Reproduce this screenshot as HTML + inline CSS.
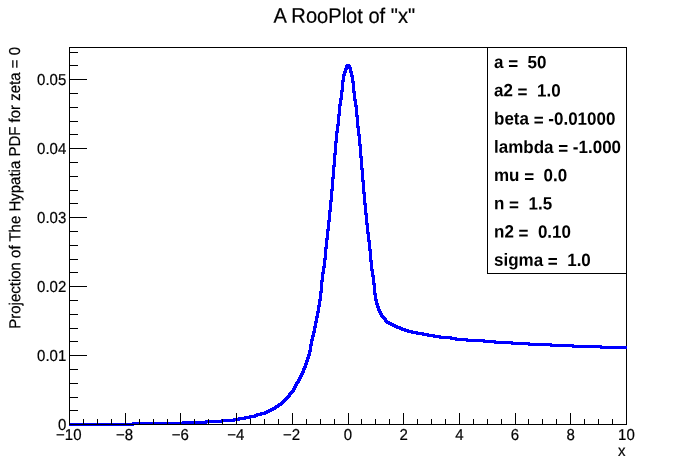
<!DOCTYPE html>
<html><head><meta charset="utf-8"><title>A RooPlot of "x"</title>
<style>html,body{margin:0;padding:0;background:#fff}svg{display:block}text{font-family:"Liberation Sans",Arial,Helvetica,sans-serif;fill:#000}</style></head><body>
<svg width="696" height="472" viewBox="0 0 696 472">
<rect width="696" height="472" fill="#fff"/>
<rect x="69.5" y="47.5" width="557" height="377" fill="none" stroke="#000" stroke-width="1" shape-rendering="crispEdges"/>
<path fill="#0000ff" shape-rendering="crispEdges" d="M346 64h4v1h-4zM345 65h6v1h-6zM345 66h6v1h-6zM345 67h7v1h-7zM344 68h8v1h-8zM344 69h4v1h-4zM349 69h3v1h-3zM344 70h3v1h-3zM349 70h3v1h-3zM343 71h4v1h-4zM349 71h4v1h-4zM343 72h4v1h-4zM349 72h4v1h-4zM343 73h3v1h-3zM350 73h3v1h-3zM342 74h4v1h-4zM350 74h3v1h-3zM342 75h4v1h-4zM350 75h4v1h-4zM342 76h3v1h-3zM350 76h4v1h-4zM342 77h3v1h-3zM351 77h3v1h-3zM342 78h3v1h-3zM351 78h3v1h-3zM342 79h3v1h-3zM351 79h3v1h-3zM341 80h4v1h-4zM351 80h3v1h-3zM341 81h4v1h-4zM351 81h4v1h-4zM341 82h3v1h-3zM351 82h4v1h-4zM341 83h3v1h-3zM352 83h3v1h-3zM341 84h3v1h-3zM352 84h3v1h-3zM341 85h3v1h-3zM352 85h3v1h-3zM341 86h3v1h-3zM352 86h3v1h-3zM341 87h3v1h-3zM352 87h3v1h-3zM341 88h3v1h-3zM352 88h3v1h-3zM341 89h3v1h-3zM352 89h3v1h-3zM340 90h4v1h-4zM352 90h3v1h-3zM340 91h4v1h-4zM352 91h4v1h-4zM340 92h3v1h-3zM352 92h4v1h-4zM340 93h3v1h-3zM353 93h3v1h-3zM340 94h3v1h-3zM353 94h3v1h-3zM340 95h3v1h-3zM353 95h3v1h-3zM340 96h3v1h-3zM353 96h3v1h-3zM340 97h3v1h-3zM353 97h3v1h-3zM339 98h4v1h-4zM353 98h3v1h-3zM339 99h4v1h-4zM353 99h4v1h-4zM339 100h3v1h-3zM353 100h4v1h-4zM339 101h3v1h-3zM354 101h3v1h-3zM339 102h3v1h-3zM354 102h3v1h-3zM339 103h3v1h-3zM354 103h3v1h-3zM338 104h4v1h-4zM354 104h3v1h-3zM338 105h4v1h-4zM354 105h4v1h-4zM338 106h3v1h-3zM354 106h4v1h-4zM338 107h3v1h-3zM355 107h3v1h-3zM338 108h3v1h-3zM355 108h3v1h-3zM338 109h3v1h-3zM355 109h3v1h-3zM338 110h3v1h-3zM355 110h3v1h-3zM338 111h3v1h-3zM355 111h3v1h-3zM338 112h3v1h-3zM355 112h3v1h-3zM338 113h3v1h-3zM355 113h3v1h-3zM337 114h4v1h-4zM355 114h3v1h-3zM337 115h4v1h-4zM355 115h4v1h-4zM337 116h3v1h-3zM355 116h4v1h-4zM337 117h3v1h-3zM356 117h3v1h-3zM337 118h3v1h-3zM356 118h3v1h-3zM337 119h3v1h-3zM356 119h3v1h-3zM337 120h3v1h-3zM356 120h3v1h-3zM337 121h3v1h-3zM356 121h3v1h-3zM337 122h3v1h-3zM356 122h3v1h-3zM337 123h3v1h-3zM356 123h3v1h-3zM336 124h4v1h-4zM356 124h3v1h-3zM336 125h4v1h-4zM356 125h3v1h-3zM336 126h3v1h-3zM356 126h4v1h-4zM336 127h3v1h-3zM356 127h4v1h-4zM336 128h3v1h-3zM357 128h3v1h-3zM336 129h3v1h-3zM357 129h3v1h-3zM336 130h3v1h-3zM357 130h3v1h-3zM335 131h4v1h-4zM357 131h3v1h-3zM335 132h4v1h-4zM357 132h3v1h-3zM335 133h3v1h-3zM357 133h3v1h-3zM335 134h3v1h-3zM357 134h4v1h-4zM335 135h3v1h-3zM357 135h4v1h-4zM335 136h3v1h-3zM358 136h3v1h-3zM335 137h3v1h-3zM358 137h3v1h-3zM335 138h3v1h-3zM358 138h3v1h-3zM335 139h3v1h-3zM358 139h3v1h-3zM335 140h3v1h-3zM358 140h3v1h-3zM334 141h4v1h-4zM358 141h3v1h-3zM334 142h4v1h-4zM358 142h3v1h-3zM334 143h3v1h-3zM358 143h3v1h-3zM334 144h3v1h-3zM358 144h4v1h-4zM334 145h3v1h-3zM358 145h4v1h-4zM334 146h3v1h-3zM359 146h3v1h-3zM334 147h3v1h-3zM359 147h3v1h-3zM334 148h3v1h-3zM359 148h3v1h-3zM334 149h3v1h-3zM359 149h3v1h-3zM334 150h3v1h-3zM359 150h3v1h-3zM334 151h3v1h-3zM359 151h3v1h-3zM334 152h3v1h-3zM359 152h3v1h-3zM333 153h4v1h-4zM359 153h3v1h-3zM333 154h4v1h-4zM359 154h3v1h-3zM333 155h3v1h-3zM359 155h3v1h-3zM333 156h3v1h-3zM359 156h4v1h-4zM333 157h3v1h-3zM359 157h4v1h-4zM333 158h3v1h-3zM360 158h3v1h-3zM333 159h3v1h-3zM360 159h3v1h-3zM333 160h3v1h-3zM360 160h3v1h-3zM333 161h3v1h-3zM360 161h3v1h-3zM333 162h3v1h-3zM360 162h3v1h-3zM333 163h3v1h-3zM360 163h3v1h-3zM333 164h3v1h-3zM360 164h3v1h-3zM332 165h4v1h-4zM360 165h3v1h-3zM332 166h4v1h-4zM360 166h3v1h-3zM332 167h3v1h-3zM360 167h3v1h-3zM332 168h3v1h-3zM360 168h4v1h-4zM332 169h3v1h-3zM360 169h4v1h-4zM332 170h3v1h-3zM361 170h3v1h-3zM332 171h3v1h-3zM361 171h3v1h-3zM332 172h3v1h-3zM361 172h3v1h-3zM332 173h3v1h-3zM361 173h3v1h-3zM332 174h3v1h-3zM361 174h3v1h-3zM332 175h3v1h-3zM361 175h3v1h-3zM332 176h3v1h-3zM361 176h3v1h-3zM331 177h4v1h-4zM361 177h3v1h-3zM331 178h4v1h-4zM361 178h3v1h-3zM331 179h3v1h-3zM361 179h3v1h-3zM331 180h3v1h-3zM361 180h4v1h-4zM331 181h3v1h-3zM361 181h4v1h-4zM331 182h3v1h-3zM362 182h3v1h-3zM331 183h3v1h-3zM362 183h3v1h-3zM331 184h3v1h-3zM362 184h3v1h-3zM331 185h3v1h-3zM362 185h3v1h-3zM331 186h3v1h-3zM362 186h3v1h-3zM331 187h3v1h-3zM362 187h3v1h-3zM331 188h3v1h-3zM362 188h3v1h-3zM330 189h4v1h-4zM362 189h3v1h-3zM330 190h4v1h-4zM362 190h3v1h-3zM330 191h3v1h-3zM362 191h3v1h-3zM330 192h3v1h-3zM362 192h4v1h-4zM330 193h3v1h-3zM362 193h4v1h-4zM330 194h3v1h-3zM363 194h3v1h-3zM330 195h3v1h-3zM363 195h3v1h-3zM330 196h3v1h-3zM363 196h3v1h-3zM330 197h3v1h-3zM363 197h3v1h-3zM330 198h3v1h-3zM363 198h3v1h-3zM330 199h3v1h-3zM363 199h3v1h-3zM329 200h4v1h-4zM363 200h3v1h-3zM329 201h4v1h-4zM363 201h3v1h-3zM329 202h3v1h-3zM363 202h3v1h-3zM329 203h3v1h-3zM363 203h4v1h-4zM329 204h3v1h-3zM363 204h4v1h-4zM329 205h3v1h-3zM364 205h3v1h-3zM329 206h3v1h-3zM364 206h3v1h-3zM329 207h3v1h-3zM364 207h3v1h-3zM329 208h3v1h-3zM364 208h3v1h-3zM329 209h3v1h-3zM364 209h3v1h-3zM328 210h4v1h-4zM364 210h3v1h-3zM328 211h4v1h-4zM364 211h3v1h-3zM328 212h3v1h-3zM364 212h3v1h-3zM328 213h3v1h-3zM364 213h4v1h-4zM328 214h3v1h-3zM364 214h4v1h-4zM328 215h3v1h-3zM365 215h3v1h-3zM328 216h3v1h-3zM365 216h3v1h-3zM328 217h3v1h-3zM365 217h3v1h-3zM328 218h3v1h-3zM365 218h3v1h-3zM328 219h3v1h-3zM365 219h3v1h-3zM327 220h4v1h-4zM365 220h3v1h-3zM327 221h4v1h-4zM365 221h3v1h-3zM327 222h3v1h-3zM365 222h3v1h-3zM327 223h3v1h-3zM365 223h4v1h-4zM327 224h3v1h-3zM365 224h4v1h-4zM327 225h3v1h-3zM366 225h3v1h-3zM327 226h3v1h-3zM366 226h3v1h-3zM327 227h3v1h-3zM366 227h3v1h-3zM327 228h3v1h-3zM366 228h3v1h-3zM326 229h4v1h-4zM366 229h3v1h-3zM326 230h4v1h-4zM366 230h3v1h-3zM326 231h3v1h-3zM366 231h3v1h-3zM326 232h3v1h-3zM366 232h4v1h-4zM326 233h3v1h-3zM366 233h4v1h-4zM326 234h3v1h-3zM367 234h3v1h-3zM326 235h3v1h-3zM367 235h3v1h-3zM326 236h3v1h-3zM367 236h3v1h-3zM326 237h3v1h-3zM367 237h3v1h-3zM325 238h4v1h-4zM367 238h3v1h-3zM325 239h4v1h-4zM367 239h3v1h-3zM325 240h3v1h-3zM367 240h4v1h-4zM325 241h3v1h-3zM367 241h4v1h-4zM325 242h3v1h-3zM368 242h3v1h-3zM325 243h3v1h-3zM368 243h3v1h-3zM325 244h3v1h-3zM368 244h3v1h-3zM325 245h3v1h-3zM368 245h3v1h-3zM325 246h3v1h-3zM368 246h3v1h-3zM324 247h4v1h-4zM368 247h3v1h-3zM324 248h4v1h-4zM368 248h3v1h-3zM324 249h3v1h-3zM368 249h4v1h-4zM324 250h3v1h-3zM368 250h4v1h-4zM324 251h3v1h-3zM369 251h3v1h-3zM324 252h3v1h-3zM369 252h3v1h-3zM324 253h3v1h-3zM369 253h3v1h-3zM324 254h3v1h-3zM369 254h3v1h-3zM324 255h3v1h-3zM369 255h3v1h-3zM324 256h3v1h-3zM369 256h3v1h-3zM324 257h3v1h-3zM369 257h3v1h-3zM323 258h4v1h-4zM369 258h3v1h-3zM323 259h4v1h-4zM369 259h3v1h-3zM323 260h3v1h-3zM369 260h4v1h-4zM323 261h3v1h-3zM369 261h4v1h-4zM323 262h3v1h-3zM370 262h3v1h-3zM323 263h3v1h-3zM370 263h3v1h-3zM323 264h3v1h-3zM370 264h3v1h-3zM323 265h3v1h-3zM370 265h3v1h-3zM322 266h4v1h-4zM370 266h3v1h-3zM322 267h4v1h-4zM370 267h3v1h-3zM322 268h3v1h-3zM370 268h3v1h-3zM322 269h3v1h-3zM370 269h4v1h-4zM322 270h3v1h-3zM370 270h4v1h-4zM322 271h3v1h-3zM371 271h3v1h-3zM321 272h4v1h-4zM371 272h3v1h-3zM321 273h4v1h-4zM371 273h3v1h-3zM321 274h3v1h-3zM371 274h3v1h-3zM321 275h3v1h-3zM371 275h4v1h-4zM321 276h3v1h-3zM371 276h4v1h-4zM321 277h3v1h-3zM372 277h3v1h-3zM321 278h3v1h-3zM372 278h3v1h-3zM321 279h3v1h-3zM372 279h3v1h-3zM320 280h4v1h-4zM372 280h3v1h-3zM320 281h4v1h-4zM372 281h3v1h-3zM320 282h3v1h-3zM372 282h3v1h-3zM320 283h3v1h-3zM372 283h4v1h-4zM320 284h3v1h-3zM372 284h4v1h-4zM320 285h3v1h-3zM373 285h3v1h-3zM320 286h3v1h-3zM373 286h3v1h-3zM320 287h3v1h-3zM373 287h3v1h-3zM320 288h3v1h-3zM373 288h3v1h-3zM320 289h3v1h-3zM373 289h3v1h-3zM320 290h3v1h-3zM373 290h3v1h-3zM319 291h4v1h-4zM373 291h3v1h-3zM319 292h4v1h-4zM373 292h3v1h-3zM319 293h3v1h-3zM373 293h4v1h-4zM319 294h3v1h-3zM373 294h4v1h-4zM319 295h3v1h-3zM374 295h3v1h-3zM319 296h3v1h-3zM374 296h3v1h-3zM319 297h3v1h-3zM374 297h3v1h-3zM319 298h3v1h-3zM374 298h3v1h-3zM318 299h4v1h-4zM374 299h4v1h-4zM318 300h4v1h-4zM374 300h4v1h-4zM318 301h3v1h-3zM375 301h3v1h-3zM318 302h3v1h-3zM375 302h3v1h-3zM318 303h3v1h-3zM375 303h4v1h-4zM318 304h3v1h-3zM375 304h4v1h-4zM317 305h4v1h-4zM376 305h3v1h-3zM317 306h4v1h-4zM376 306h4v1h-4zM317 307h3v1h-3zM376 307h4v1h-4zM317 308h3v1h-3zM377 308h3v1h-3zM317 309h3v1h-3zM377 309h4v1h-4zM317 310h3v1h-3zM377 310h4v1h-4zM316 311h4v1h-4zM378 311h4v1h-4zM316 312h4v1h-4zM378 312h4v1h-4zM316 313h3v1h-3zM379 313h4v1h-4zM316 314h3v1h-3zM379 314h4v1h-4zM316 315h3v1h-3zM380 315h4v1h-4zM315 316h4v1h-4zM380 316h5v1h-5zM315 317h4v1h-4zM381 317h5v1h-5zM315 318h3v1h-3zM382 318h5v1h-5zM315 319h3v1h-3zM383 319h4v1h-4zM315 320h3v1h-3zM384 320h4v1h-4zM314 321h4v1h-4zM384 321h6v1h-6zM314 322h4v1h-4zM385 322h7v1h-7zM314 323h3v1h-3zM386 323h8v1h-8zM314 324h3v1h-3zM388 324h8v1h-8zM314 325h3v1h-3zM390 325h8v1h-8zM313 326h4v1h-4zM392 326h9v1h-9zM313 327h4v1h-4zM394 327h9v1h-9zM313 328h3v1h-3zM396 328h10v1h-10zM313 329h3v1h-3zM399 329h10v1h-10zM313 330h3v1h-3zM401 330h12v1h-12zM312 331h4v1h-4zM404 331h14v1h-14zM312 332h4v1h-4zM407 332h17v1h-17zM312 333h3v1h-3zM411 333h18v1h-18zM312 334h3v1h-3zM416 334h19v1h-19zM311 335h4v1h-4zM422 335h19v1h-19zM311 336h4v1h-4zM427 336h25v1h-25zM311 337h3v1h-3zM433 337h24v1h-24zM311 338h3v1h-3zM439 338h29v1h-29zM310 339h4v1h-4zM450 339h35v1h-35zM310 340h4v1h-4zM455 340h41v1h-41zM310 341h3v1h-3zM466 341h47v1h-47zM310 342h3v1h-3zM483 342h47v1h-47zM310 343h3v1h-3zM494 343h58v1h-58zM309 344h4v1h-4zM511 344h63v1h-63zM309 345h4v1h-4zM528 345h74v1h-74zM309 346h3v1h-3zM550 346h77v1h-77zM309 347h3v1h-3zM572 347h55v1h-55zM309 348h3v1h-3zM600 348h27v1h-27zM309 349h3v1h-3zM308 350h4v1h-4zM308 351h4v1h-4zM308 352h3v1h-3zM308 353h3v1h-3zM307 354h4v1h-4zM307 355h4v1h-4zM307 356h3v1h-3zM306 357h4v1h-4zM306 358h4v1h-4zM306 359h3v1h-3zM305 360h4v1h-4zM305 361h4v1h-4zM305 362h3v1h-3zM304 363h4v1h-4zM304 364h4v1h-4zM304 365h3v1h-3zM303 366h4v1h-4zM303 367h4v1h-4zM302 368h4v1h-4zM302 369h4v1h-4zM302 370h3v1h-3zM301 371h4v1h-4zM301 372h4v1h-4zM300 373h4v1h-4zM300 374h4v1h-4zM299 375h4v1h-4zM299 376h4v1h-4zM298 377h4v1h-4zM298 378h4v1h-4zM297 379h4v1h-4zM297 380h4v1h-4zM296 381h4v1h-4zM295 382h5v1h-5zM295 383h4v1h-4zM294 384h4v1h-4zM294 385h4v1h-4zM293 386h4v1h-4zM293 387h4v1h-4zM292 388h4v1h-4zM292 389h4v1h-4zM291 390h4v1h-4zM290 391h5v1h-5zM289 392h5v1h-5zM288 393h5v1h-5zM288 394h4v1h-4zM287 395h4v1h-4zM286 396h5v1h-5zM285 397h5v1h-5zM284 398h5v1h-5zM283 399h5v1h-5zM282 400h5v1h-5zM281 401h5v1h-5zM280 402h5v1h-5zM278 403h6v1h-6zM277 404h6v1h-6zM275 405h7v1h-7zM274 406h6v1h-6zM272 407h7v1h-7zM270 408h7v1h-7zM268 409h8v1h-8zM266 410h8v1h-8zM264 411h8v1h-8zM260 412h10v1h-10zM256 413h12v1h-12zM254 414h12v1h-12zM249 415h13v1h-13zM244 416h14v1h-14zM238 417h18v1h-18zM233 418h18v1h-18zM221 419h25v1h-25zM205 420h35v1h-35zM182 421h53v1h-53zM132 422h91v1h-91zM69 423h138v1h-138zM69 424h115v1h-115zM69 425h65v1h-65z"/>
<g stroke="#000" stroke-width="1" fill="none" shape-rendering="crispEdges">
<path d="M69.5 47.0V425.0M69.0 424.5H627.0M69.5 424.5V412.5M83.5 424.5V418.5M97.5 424.5V418.5M111.5 424.5V418.5M125.5 424.5V412.5M139.5 424.5V418.5M153.5 424.5V418.5M167.5 424.5V418.5M180.5 424.5V412.5M194.5 424.5V418.5M208.5 424.5V418.5M222.5 424.5V418.5M236.5 424.5V412.5M250.5 424.5V418.5M264.5 424.5V418.5M278.5 424.5V418.5M292.5 424.5V412.5M306.5 424.5V418.5M320.5 424.5V418.5M334.5 424.5V418.5M348.5 424.5V412.5M361.5 424.5V418.5M375.5 424.5V418.5M389.5 424.5V418.5M403.5 424.5V412.5M417.5 424.5V418.5M431.5 424.5V418.5M445.5 424.5V418.5M459.5 424.5V412.5M473.5 424.5V418.5M487.5 424.5V418.5M501.5 424.5V418.5M515.5 424.5V412.5M528.5 424.5V418.5M542.5 424.5V418.5M556.5 424.5V418.5M570.5 424.5V412.5M584.5 424.5V418.5M598.5 424.5V418.5M612.5 424.5V418.5M626.5 424.5V412.5M69.5 424.5H86.5M69.5 410.5H77.5M69.5 397.5H77.5M69.5 383.5H77.5M69.5 369.5H77.5M69.5 355.5H86.5M69.5 341.5H77.5M69.5 328.5H77.5M69.5 314.5H77.5M69.5 300.5H77.5M69.5 286.5H86.5M69.5 272.5H77.5M69.5 259.5H77.5M69.5 245.5H77.5M69.5 231.5H77.5M69.5 217.5H86.5M69.5 203.5H77.5M69.5 190.5H77.5M69.5 176.5H77.5M69.5 162.5H77.5M69.5 148.5H86.5M69.5 134.5H77.5M69.5 121.5H77.5M69.5 107.5H77.5M69.5 93.5H77.5M69.5 79.5H86.5M69.5 65.5H77.5M69.5 52.5H77.5"/>
</g>
<g font-size="15" stroke="#000" stroke-width="0.2">
<text transform="translate(68.8,440) rotate(0.05) scale(1,1.055)" text-anchor="middle">−10</text>
<text transform="translate(124.5,440) rotate(0.05) scale(1,1.055)" text-anchor="middle">−8</text>
<text transform="translate(180.2,440) rotate(0.05) scale(1,1.055)" text-anchor="middle">−6</text>
<text transform="translate(235.8,440) rotate(0.05) scale(1,1.055)" text-anchor="middle">−4</text>
<text transform="translate(291.5,440) rotate(0.05) scale(1,1.055)" text-anchor="middle">−2</text>
<text transform="translate(348.0,440) rotate(0.05) scale(1,1.055)" text-anchor="middle">0</text>
<text transform="translate(403.7,440) rotate(0.05) scale(1,1.055)" text-anchor="middle">2</text>
<text transform="translate(459.4,440) rotate(0.05) scale(1,1.055)" text-anchor="middle">4</text>
<text transform="translate(515.0,440) rotate(0.05) scale(1,1.055)" text-anchor="middle">6</text>
<text transform="translate(570.7,440) rotate(0.05) scale(1,1.055)" text-anchor="middle">8</text>
<text transform="translate(626.4,440) rotate(0.05) scale(1,1.055)" text-anchor="middle">10</text>
<text transform="translate(66.3,430.1) rotate(0.05) scale(1,1.055)" text-anchor="end">0</text>
<text transform="translate(66.3,361.1) rotate(0.05) scale(1,1.055)" text-anchor="end">0.01</text>
<text transform="translate(66.3,292.1) rotate(0.05) scale(1,1.055)" text-anchor="end">0.02</text>
<text transform="translate(66.3,223.0) rotate(0.05) scale(1,1.055)" text-anchor="end">0.03</text>
<text transform="translate(66.3,154.0) rotate(0.05) scale(1,1.055)" text-anchor="end">0.04</text>
<text transform="translate(66.3,85.0) rotate(0.05) scale(1,1.055)" text-anchor="end">0.05</text>
<text transform="translate(621.7,456) rotate(0.05) scale(1,1.055)" text-anchor="middle">x</text>
<text transform="translate(20,47) rotate(-90.05) scale(1,1.055)" text-anchor="end">Projection of The Hypatia PDF for zeta = 0</text>
</g>
<text transform="translate(344.3,22.9) rotate(0.05) scale(1,1.055)" font-size="20.1" stroke="#000" stroke-width="0.2" text-anchor="middle">A RooPlot of "x"</text>
<rect x="487.5" y="47.5" width="139" height="226" fill="#fff" stroke="#000" stroke-width="1" shape-rendering="crispEdges"/>
<g font-size="17" font-weight="bold">
<text transform="translate(494,68.10) rotate(0.05) scale(1,1.045)" style="white-space:pre">a <tspan dy="1.4">=</tspan><tspan dy="-1.4">  50</tspan></text>
<text transform="translate(494,96.35) rotate(0.05) scale(1,1.045)" style="white-space:pre">a2 <tspan dy="1.4">=</tspan><tspan dy="-1.4">  1.0</tspan></text>
<text transform="translate(494,124.60) rotate(0.05) scale(1,1.045)" style="white-space:pre">beta <tspan dy="1.4">=</tspan><tspan dy="-1.4"> -0.01000</tspan></text>
<text transform="translate(494,152.85) rotate(0.05) scale(1,1.045)" style="white-space:pre">lambda <tspan dy="1.4">=</tspan><tspan dy="-1.4"> -1.000</tspan></text>
<text transform="translate(494,181.10) rotate(0.05) scale(1,1.045)" style="white-space:pre">mu <tspan dy="1.4">=</tspan><tspan dy="-1.4">  0.0</tspan></text>
<text transform="translate(494,209.35) rotate(0.05) scale(1,1.045)" style="white-space:pre">n <tspan dy="1.4">=</tspan><tspan dy="-1.4">  1.5</tspan></text>
<text transform="translate(494,237.60) rotate(0.05) scale(1,1.045)" style="white-space:pre">n2 <tspan dy="1.4">=</tspan><tspan dy="-1.4">  0.10</tspan></text>
<text transform="translate(494,265.85) rotate(0.05) scale(1,1.045)" style="white-space:pre">sigma <tspan dy="1.4">=</tspan><tspan dy="-1.4">  1.0</tspan></text>
</g>
</svg></body></html>
